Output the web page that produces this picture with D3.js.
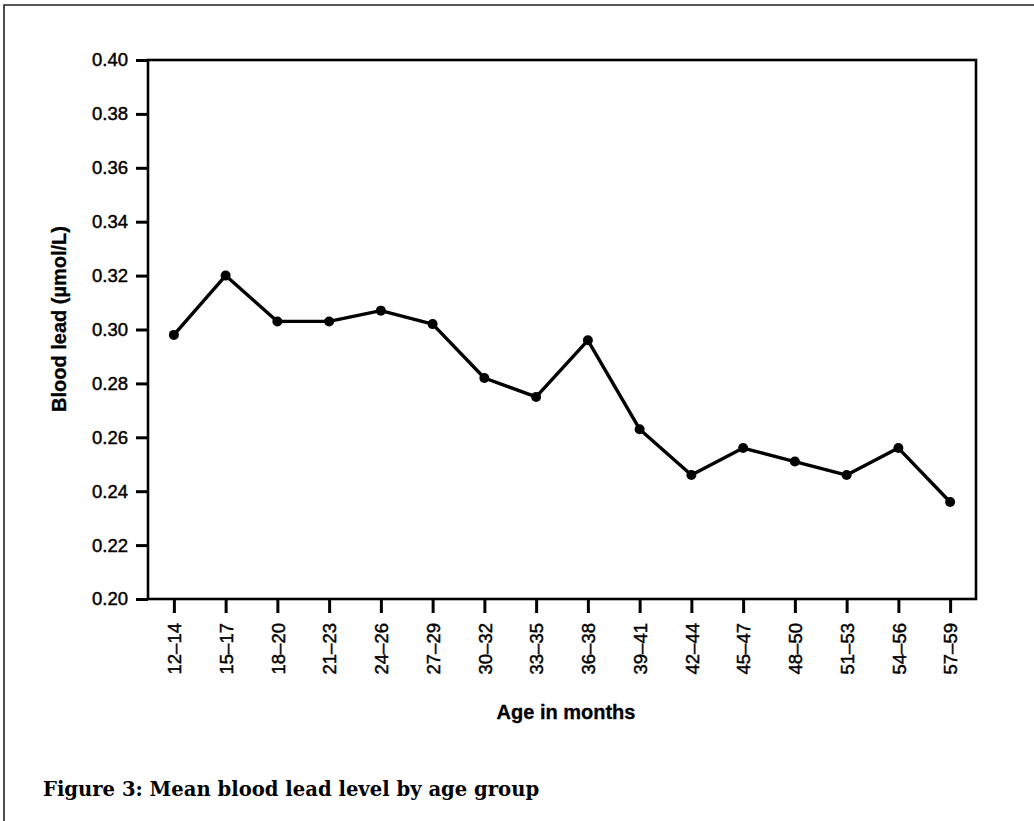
<!DOCTYPE html>
<html>
<head>
<meta charset="utf-8">
<script src="https://cdn.jsdelivr.net/npm/d3@7"></script>
<style>
  html, body { margin: 0; padding: 0; background: #fff; }
  svg { display: block; }
</style>
</head>
<body>
<script>
// ---- data ----
const ageGroups = ["12–14","15–17","18–20","21–23","24–26","27–29","30–32","33–35","36–38","39–41","42–44","45–47","48–50","51–53","54–56","57–59"];
const bloodLead = [0.298,0.320,0.303,0.303,0.307,0.302,0.282,0.275,0.296,0.263,0.246,0.256,0.251,0.246,0.256,0.236];
const yTicks = [0.20,0.22,0.24,0.26,0.28,0.30,0.32,0.34,0.36,0.38,0.40];
const xTitle = "Age in months";
const yTitle = "Blood lead (µmol/L)";
const caption = "Figure 3:  Mean blood lead level by age group";

const W = 1034, H = 821;
const plot = {left: 148, right: 976, top: 60, bottom: 599};

const svg = d3.select("body").append("svg").attr("width", W).attr("height", H);

// outer frame (top and left edges visible)
svg.append("path")
  .attr("d", d3.line()([[4, H], [4, 5], [W, 5]]))
  .attr("fill", "none").attr("stroke", "#222").attr("stroke-width", 1.6);

const x = d3.scalePoint().domain(ageGroups).range([plot.left, plot.right]).padding(0.5);
const y = d3.scaleLinear().domain([0.20, 0.40]).range([plot.bottom, plot.top]);

const sans = "'Liberation Sans', Arial, Helvetica, sans-serif";

// plot frame
svg.append("rect")
  .attr("x", plot.left).attr("y", plot.top)
  .attr("width", plot.right - plot.left).attr("height", plot.bottom - plot.top)
  .attr("fill", "none").attr("stroke", "#000").attr("stroke-width", 2.6);

// y axis
const yAxis = svg.append("g").attr("transform", `translate(${plot.left},0)`)
  .call(d3.axisLeft(y).tickValues(yTicks).tickFormat(d3.format(".2f")).tickSize(12).tickPadding(8).tickSizeOuter(0));
yAxis.select(".domain").remove();
yAxis.selectAll(".tick line").attr("stroke", "#000").attr("stroke-width", 3);
yAxis.selectAll(".tick text").attr("fill", "#000")
  .attr("stroke", "#000").attr("stroke-width", 0.45)
  .style("font-family", sans).style("font-size", "18.5px");

// x axis
const xAxis = svg.append("g").attr("transform", `translate(0,${plot.bottom})`)
  .call(d3.axisBottom(x).tickSize(14).tickSizeOuter(0));
xAxis.select(".domain").remove();
xAxis.selectAll(".tick line").attr("stroke", "#000").attr("stroke-width", 3);
xAxis.selectAll(".tick text")
  .attr("fill", "#000")
  .attr("stroke", "#000").attr("stroke-width", 0.45)
  .style("font-family", sans).style("font-size", "18.5px")
  .attr("transform", "rotate(-90)")
  .attr("text-anchor", "end")
  .attr("x", -24).attr("y", 0).attr("dy", "0.36em");

// line
svg.append("path")
  .datum(bloodLead)
  .attr("d", d3.line().x((d, i) => x(ageGroups[i])).y(d => y(d)))
  .attr("fill", "none").attr("stroke", "#000").attr("stroke-width", 3.4).attr("stroke-linejoin", "round");

svg.selectAll("circle.pt").data(bloodLead).join("circle")
  .attr("class", "pt")
  .attr("cx", (d, i) => x(ageGroups[i])).attr("cy", d => y(d)).attr("r", 5)
  .attr("fill", "#000");

// axis titles
svg.append("text")
  .attr("x", (plot.left + plot.right) / 2 + 4).attr("y", 719)
  .attr("text-anchor", "middle")
  .attr("stroke", "#000").attr("stroke-width", 0.3)
  .style("font-family", sans).style("font-weight", "bold").style("font-size", "20px")
  .text(xTitle);

svg.append("text")
  .attr("transform", `translate(66,319) rotate(-90)`)
  .attr("text-anchor", "middle")
  .attr("stroke", "#000").attr("stroke-width", 0.3)
  .style("font-family", sans).style("font-weight", "bold").style("font-size", "20px")
  .text(yTitle);

// caption
svg.append("text")
  .attr("x", 43).attr("y", 796)
  .style("font-family", "'DejaVu Serif', 'Liberation Serif', serif").style("font-weight", "bold").style("font-size", "19.6px")
  .text(caption);
</script>
</body>
</html>
